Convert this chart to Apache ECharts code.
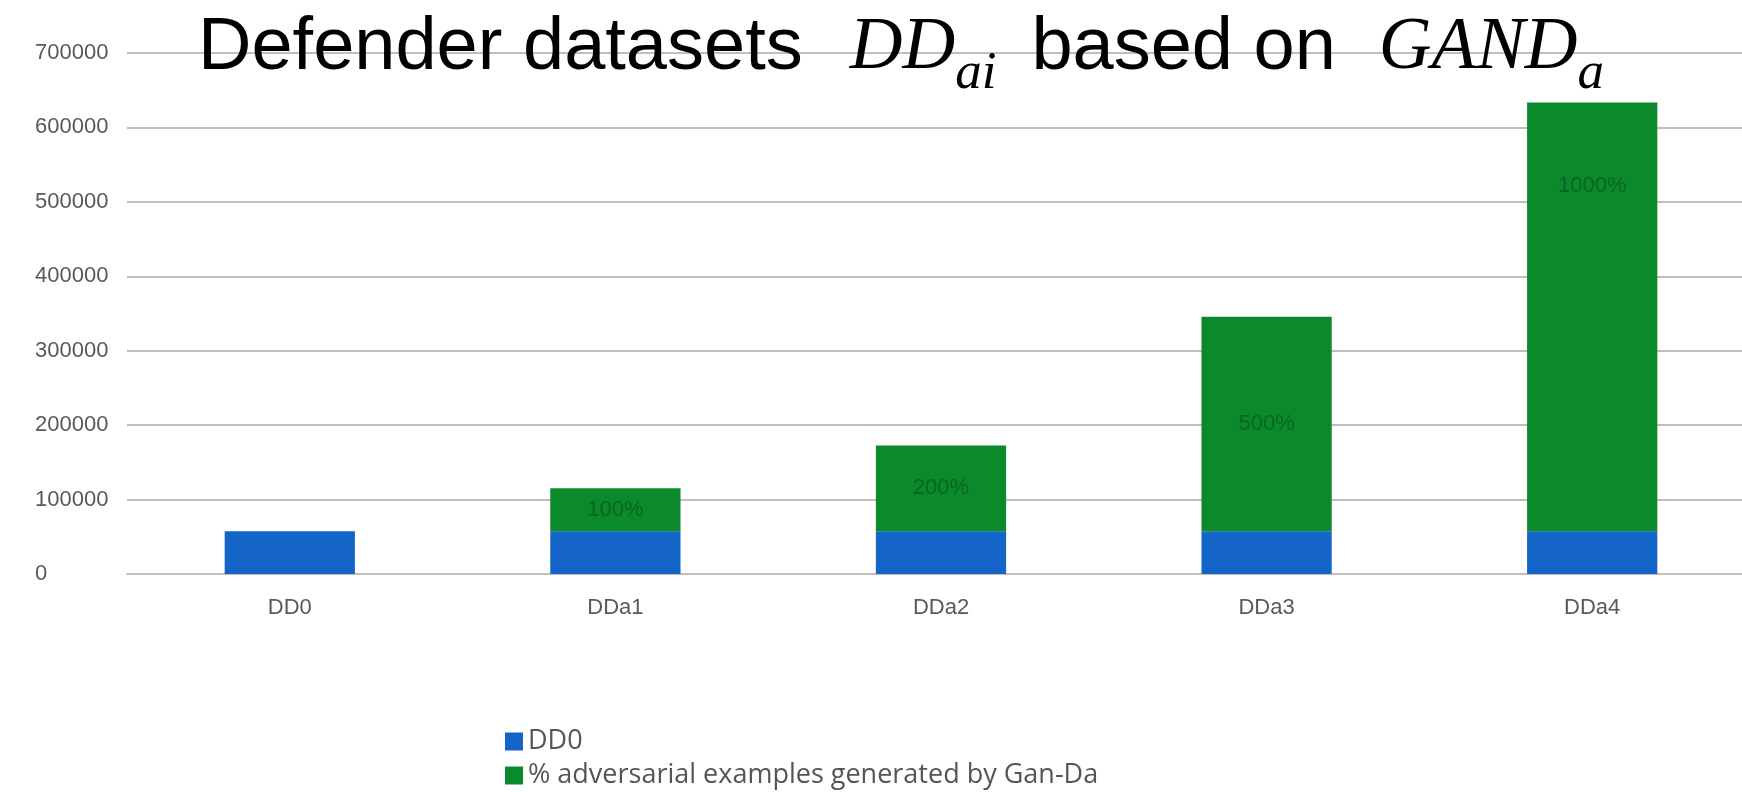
<!DOCTYPE html>
<html><head><meta charset="utf-8">
<script src="https://cdn.jsdelivr.net/npm/echarts@6/dist/echarts.min.js"></script>
<style>html,body{margin:0;padding:0;background:#fff;overflow:hidden;width:1742px;height:792px}#c{width:1770px;height:792px}</style>
</head><body><div id="c"></div>
<script>
const categories = ['DD0', 'DDa1', 'DDa2', 'DDa3', 'DDa4'];
const dd0Values = [57600, 57600, 57600, 57600, 57600];
const advValues = [null, 57600, 115200, 288000, 576000];
const advLabels = ['', '100%', '200%', '500%', '1000%'];
const yTicks = [0, 100000, 200000, 300000, 400000, 500000, 600000, 700000];
const seriesNames = ['DD0', '% adversarial examples generated by Gan-Da'];

const chart = echarts.init(document.getElementById('c'), null, {renderer: 'canvas'});
const gridColor = '#bfbfbf';
const labelColor = '#595959';
const advData = advValues.map((v, i) => {
  const item = {value: v};
  if (i === 4) item.label = {position: ['50%', '19.5%'], align: 'center', verticalAlign: 'middle'};
  return item;
});
const mainStyle = {fontFamily: 'Liberation Sans', fontWeight: 'normal', fontSize: 74, color: '#000', lineHeight: 94, verticalAlign: 'middle'};
const mathStyle = {fontFamily: 'Liberation Serif', fontStyle: 'italic', fontWeight: 'normal', fontSize: 73, color: '#000', lineHeight: 94, verticalAlign: 'middle'};
const subStyle = {fontFamily: 'Liberation Serif', fontStyle: 'italic', fontWeight: 'normal', fontSize: 53, color: '#000', lineHeight: 40, verticalAlign: 'top'};
chart.setOption({
  animation: false,
  backgroundColor: '#ffffff',
  title: {
    text: '{t1|Defender datasets}{m1|DD}{s1|ai}{t2|based on}{m2|GAND}{s2|a}',
    left: 198, top: 2, padding: 0,
    textStyle: {
      fontWeight: 'normal',
      rich: {
        t1: Object.assign({}, mainStyle),
        m1: Object.assign({}, mathStyle, {padding: [0, 0, 0, 47]}),
        s1: Object.assign({}, subStyle, {padding: [46, 0, 0, 0]}),
        t2: Object.assign({}, mainStyle, {padding: [0, 0, 0, 35]}),
        m2: Object.assign({}, mathStyle, {padding: [0, 0, 0, 43]}),
        s2: Object.assign({}, subStyle, {padding: [46, 0, 0, 0]})
      }
    }
  },
  legend: {
    orient: 'vertical', left: 505, top: 728, itemGap: 7, padding: 0,
    itemWidth: 18, itemHeight: 18, icon: 'rect',
    textStyle: {fontFamily: 'Open Sans', fontSize: 27, lineHeight: 27, color: '#555'},
    data: seriesNames
  },
  grid: {left: 127, top: 53, width: 1628, height: 521, containLabel: false},
  xAxis: {
    type: 'category', data: categories,
    axisLine: {lineStyle: {color: gridColor, width: 2}},
    axisTick: {show: false},
    axisLabel: {fontFamily: 'Liberation Sans', fontSize: 22, color: labelColor, margin: 23}
  },
  yAxis: {
    type: 'value', min: yTicks[0], max: yTicks[yTicks.length - 1], interval: yTicks[1] - yTicks[0],
    axisLine: {show: false}, axisTick: {show: false},
    splitLine: {lineStyle: {color: gridColor, width: 2}},
    axisLabel: {fontFamily: 'Liberation Sans', fontSize: 22, color: labelColor, align: 'left', margin: 92,
      formatter: v => String(v)}
  },
  series: [
    {
      name: seriesNames[0], type: 'bar', stack: 'total', barWidth: '40%',
      data: dd0Values,
      itemStyle: {color: '#1565c8'}
    },
    {
      name: seriesNames[1], type: 'bar', stack: 'total', barWidth: '40%',
      data: advData,
      itemStyle: {color: '#0b8a2c'},
      label: {
        show: true, position: 'inside', fontFamily: 'Liberation Sans', fontSize: 22, color: '#0b6424',
        formatter: p => advLabels[p.dataIndex]
      }
    }
  ]
});
</script></body></html>
